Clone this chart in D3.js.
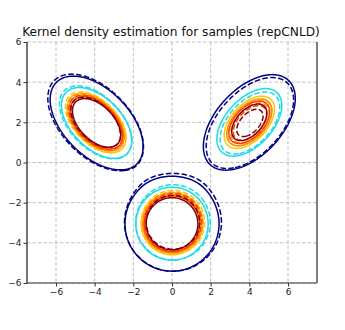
<!DOCTYPE html>
<html><head><meta charset="utf-8">
<script src="https://cdn.jsdelivr.net/npm/d3@7"></script>
<style>body{margin:0;background:#fff}</style>
</head><body><svg id="c" width="345" height="330"></svg>
<script>
// ---- data ----
const title = "Kernel density estimation for samples (repCNLD)";
const xTicks = [-6, -4, -2, 0, 2, 4, 6];
const yTicks = [-6, -4, -2, 0, 2, 4, 6];
const levels = [0.0085, 0.0285, 0.0462, 0.0533, 0.0592, 0.0670];
const levelColors = ["#00007f", "#18dce6", "#ffc400", "#ff8800", "#ff3c00", "#800000"];
// true density components (solid): left, right, bottom
const trueMx = [-3.9, 4.0, 0.0];
const trueMy = [1.97, 2.0, -3.05];
const trueSx = [1.01, 1.08, 1.0];
const trueSy = [0.98, 1.08, 0.97];
const trueRho = [-0.5, 0.5, 0.0];
const trueW = [0.775, 0.606, 1.0];
// kernel density estimate components (dashed)
const kdeMx = [-3.95, 4.03, 0.05];
const kdeMy = [2.0, 1.97, -2.98];
const kdeSx = [1.04, 1.06, 1.03];
const kdeSy = [1.01, 1.06, 1.0];
const kdeRho = [-0.5, 0.51, 0.0];
const kdeW = [0.82, 0.5, 1.062];

// ---- layout ----
const svg = d3.select("#c");
const L = 27, R = 317, T = 42, B = 283;
const x = d3.scaleLinear().domain([-7.5, 7.5]).range([L, R]);
const y = d3.scaleLinear().domain([-6, 6]).range([B, T]);
const font = "DejaVu Sans, sans-serif";
const fmt = v => (v < 0 ? "\u2212" + Math.abs(v) : String(v));

// grid lines
svg.append("g").selectAll("line").data(xTicks).join("line")
  .attr("x1", d => x(d)).attr("x2", d => x(d)).attr("y1", T).attr("y2", B)
  .attr("stroke", "#b0b0b0").attr("stroke-width", 0.8).attr("stroke-dasharray", "3.5,2");
svg.append("g").selectAll("line").data(yTicks).join("line")
  .attr("y1", d => y(d)).attr("y2", d => y(d)).attr("x1", L).attr("x2", R)
  .attr("stroke", "#b0b0b0").attr("stroke-width", 0.8).attr("stroke-dasharray", "3.5,2");

// density grid
const step = 0.05;
const x0 = -7.5, y0 = 6;
const nx = Math.round(15 / step) + 1, ny = Math.round(12 / step) + 1;
function mixture(mx, my, sx, sy, rho, w) {
  const vals = new Float64Array(nx * ny);
  for (let j = 0; j < ny; j++) {
    const yy = y0 - j * step;
    for (let i = 0; i < nx; i++) {
      const xx = x0 + i * step;
      let s = 0;
      for (let k = 0; k < mx.length; k++) {
        const dx = (xx - mx[k]) / sx[k], dy = (yy - my[k]) / sy[k];
        const r = rho[k], q = 1 - r * r;
        const z = (dx * dx - 2 * r * dx * dy + dy * dy) / q;
        s += w[k] * Math.exp(-z / 2) / (2 * Math.PI * sx[k] * sy[k] * Math.sqrt(q));
      }
      vals[j * nx + i] = s;
    }
  }
  return vals;
}
const proj = d3.geoTransform({
  point(px, py) {
    this.stream.point(x(x0 + (px - 0.5) * step), y(y0 - (py - 0.5) * step));
  }
});
const path = d3.geoPath(proj);
const gen = d3.contours().size([nx, ny]).thresholds(levels);

svg.append("clipPath").attr("id", "clip").append("rect")
  .attr("x", L).attr("y", T).attr("width", R - L).attr("height", B - T);
const plot = svg.append("g").attr("clip-path", "url(#clip)");

const trueC = gen(mixture(trueMx, trueMy, trueSx, trueSy, trueRho, trueW));
const kdeC = gen(mixture(kdeMx, kdeMy, kdeSx, kdeSy, kdeRho, kdeW));
levels.forEach((lv, i) => {
  plot.append("path").datum(trueC[i]).attr("d", path)
    .attr("fill", "none").attr("stroke", levelColors[i]).attr("stroke-width", 1.5);
  plot.append("path").datum(kdeC[i]).attr("d", path)
    .attr("fill", "none").attr("stroke", levelColors[i]).attr("stroke-width", 1.5)
    .attr("stroke-dasharray", "5.5,2.4");
});

// spines
svg.append("line").attr("x1", L).attr("x2", L).attr("y1", T).attr("y2", B)
  .attr("stroke", "#666").attr("stroke-width", 1.8);
svg.append("line").attr("x1", L).attr("x2", R).attr("y1", B).attr("y2", B)
  .attr("stroke", "#333").attr("stroke-width", 1.2);
svg.append("line").attr("x1", R).attr("x2", R).attr("y1", T).attr("y2", B)
  .attr("stroke", "#555").attr("stroke-width", 1.5);

// ticks
const xa = svg.append("g").attr("transform", `translate(0,${B})`)
  .call(d3.axisBottom(x).tickValues(xTicks).tickFormat(fmt).tickSize(3.5).tickPadding(2));
const ya = svg.append("g").attr("transform", `translate(${L},0)`)
  .call(d3.axisLeft(y).tickValues(yTicks).tickFormat(fmt).tickSize(3.5).tickPadding(2));
[xa, ya].forEach(a => {
  a.select(".domain").remove();
  a.selectAll("line").attr("stroke", "#333");
  a.selectAll("text").attr("font-family", font).attr("font-size", 9).attr("fill", "#222");
});

// title
svg.append("text").attr("x", 171).attr("y", 36).attr("text-anchor", "middle")
  .attr("font-family", font).attr("font-size", 12.2).attr("fill", "#111").text(title);
</script>
</body></html>
